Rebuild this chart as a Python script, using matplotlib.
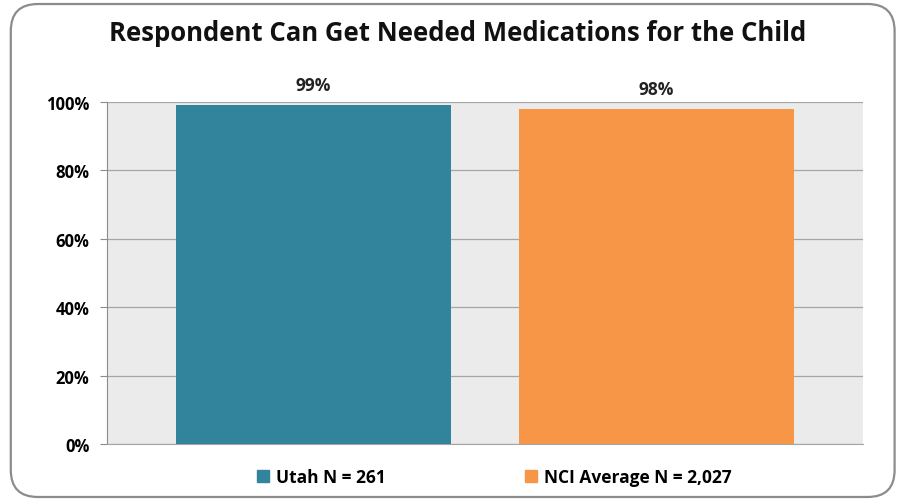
import matplotlib.pyplot as plt
from matplotlib.patches import FancyBboxPatch, Patch
from matplotlib.ticker import FuncFormatter

title = 'Respondent Can Get Needed Medications for the Child'
series = ['Utah N = 261', 'NCI Average N = 2,027']
values = [99, 98]
colors = ['#31849B', '#F79646']
yticks = [0, 20, 40, 60, 80, 100]

plt.rcParams['font.family'] = ['Open Sans', 'DejaVu Sans']

fig = plt.figure(figsize=(9, 5.02), dpi=100)

# rounded frame around the whole chart
frame = FancyBboxPatch((0.012, 0.008), 0.982, 0.982, boxstyle='round,pad=0,rounding_size=0.03',
                       transform=fig.transFigure, facecolor='white', edgecolor='#8C8C8C',
                       linewidth=1.6, zorder=-1, mutation_aspect=900 / 502)
fig.patches.append(frame)

ax = fig.add_axes([107 / 900, 1 - 445 / 502, 756 / 900, 342 / 502])
ax.set_zorder(1)
ax.set_facecolor('#EBEBEB')

width = 0.364
offsets = [-0.227, 0.227]
for off, v, c, lab in zip(offsets, values, colors, series):
    ax.bar(off, v, width=width, color=c, label=lab, zorder=3)
    ax.annotate('%d%%' % v, (off, v), xytext=(0, 8), textcoords='offset points',
                ha='center', va='bottom', fontsize=12.5, fontweight='bold',
                color='#222222', annotation_clip=False)

ax.set_xlim(-0.5, 0.5)
ax.set_ylim(0, 100)
ax.set_yticks(yticks)
ax.yaxis.set_major_formatter(FuncFormatter(lambda y, pos: '%d%%' % y))
ax.set_xticks([])
ax.grid(axis='y', color='#A6A6A6', linewidth=0.9, zorder=1)
for s in ['top', 'right']:
    ax.spines[s].set_visible(False)
ax.spines['left'].set_color('#8C8C8C')
ax.spines['bottom'].set_color('#A6A6A6')
ax.tick_params(axis='y', length=5, color='#8C8C8C', labelsize=12, pad=7.5)
for t in ax.get_yticklabels():
    t.set_fontweight('bold')

fig.text(458 / 900, 1 - 34 / 502, title, ha='center', va='center',
         fontsize=18.5, fontweight='bold', color='#111111')

handles = [Patch(color=c) for c in colors]
fig.legend(handles, series, loc='center', bbox_to_anchor=(494 / 900, 1 - 478 / 502),
           ncol=2, frameon=False, prop={'weight': 'bold', 'size': 12.5},
           handlelength=0.7, handleheight=0.7, handletextpad=0.4, columnspacing=8.0)

fig.savefig('out.png', dpi=100)
